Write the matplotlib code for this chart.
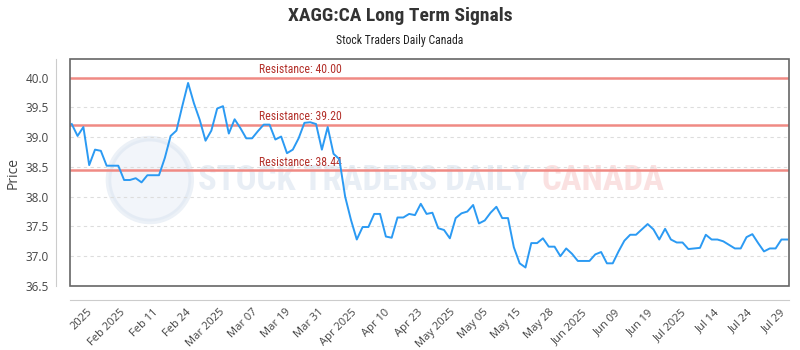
import matplotlib
matplotlib.use("Agg")
import matplotlib.pyplot as plt
from matplotlib.patches import Rectangle, Ellipse
from matplotlib import font_manager
import numpy as np

# closing prices (one per trading day)
prices = [
    39.22, 39.02, 39.17, 38.53, 38.79, 38.77, 38.52, 38.52, 38.52, 38.28,
    38.28, 38.31, 38.24, 38.36, 38.36, 38.36, 38.65, 39.02, 39.11, 39.52,
    39.91, 39.57, 39.29, 38.94, 39.11, 39.48, 39.52, 39.06, 39.30, 39.15,
    38.98, 38.98, 39.10, 39.21, 39.21, 38.96, 39.01, 38.73, 38.79, 38.98,
    39.24, 39.25, 39.22, 38.79, 39.17, 38.72, 38.63, 38.00, 37.61, 37.28,
    37.49, 37.49, 37.71, 37.71, 37.33, 37.31, 37.65, 37.65, 37.71, 37.69,
    37.88, 37.71, 37.73, 37.47, 37.44, 37.30, 37.64, 37.72, 37.75, 37.86,
    37.55, 37.60, 37.73, 37.83, 37.64, 37.64, 37.15, 36.88, 36.81, 37.22,
    37.22, 37.30, 37.16, 37.16, 37.00, 37.13, 37.04, 36.92, 36.92, 36.92,
    37.03, 37.07, 36.88, 36.88, 37.08, 37.26, 37.36, 37.36, 37.45, 37.54,
    37.45, 37.28, 37.46, 37.28, 37.23, 37.23, 37.12, 37.13, 37.14, 37.36,
    37.28, 37.28, 37.25, 37.19, 37.13, 37.13, 37.32, 37.37, 37.22, 37.08,
    37.13, 37.13, 37.28, 37.28,
]

date_labels = [
    "2025", "Feb 2025", "Feb 11", "Feb 24", "Mar 2025", "Mar 07", "Mar 19",
    "Mar 31", "Apr 2025", "Apr 10", "Apr 23", "May 2025", "May 05", "May 15",
    "May 28", "Jun 2025", "Jun 09", "Jun 19", "Jul 2025", "Jul 14", "Jul 24",
    "Jul 29",
]

resistance = [40.00, 39.20, 38.44]
y_ticks = [36.5, 37.0, 37.5, 38.0, 38.5, 39.0, 39.5, 40.0]

# pick a narrow face if one is there
have = {f.name for f in font_manager.fontManager.ttflist}
narrow = [f for f in ['Liberation Sans Narrow', 'DejaVu Sans Condensed',
                      'Roboto Condensed'] if f in have] + ['DejaVu Sans']
is_narrow = narrow[0] != 'DejaVu Sans'
plt.rcParams['font.family'] = ['Open Sans', 'DejaVu Sans']

fig = plt.figure(figsize=(8, 3.5), dpi=100)
ax = fig.add_axes([0.0875, 0.183, 0.8991, 0.648])

n = len(prices)
x = np.arange(n)

# spines first: moving them resets the tick labels
for s in ['top', 'right']:
    ax.spines[s].set_visible(False)
for s in ['left', 'bottom']:
    ax.spines[s].set_position(('outward', 10))
    ax.spines[s].set_color('#cccccc')

# faint watermark
ax.add_patch(Ellipse((0.111, 0.467), 0.115, 0.365, transform=ax.transAxes,
                     facecolor='#e3ebf5', edgecolor='#d5e0ee', lw=4,
                     alpha=0.45, zorder=0))
wm = 25 if is_narrow else 20
ax.text(0.178, 0.467, "STOCK TRADERS DAILY", transform=ax.transAxes,
        fontsize=wm, family=narrow, fontweight='bold', color='#d3deec',
        alpha=0.5, va='center', ha='left', zorder=0)
ax.text(0.655, 0.467, "CANADA", transform=ax.transAxes,
        fontsize=wm, family=narrow, fontweight='bold', color='#f7c4c4',
        alpha=0.5, va='center', ha='left', zorder=0)

for r in resistance:
    ax.axhline(r, color='#f08a84', lw=1.8, zorder=2)
    ax.text(0.263, r + 0.03, "Resistance: %.2f" % r, color='#b3302a',
            fontsize=8.5, family=narrow, va='bottom', ha='left', zorder=3,
            transform=ax.get_yaxis_transform())

ax.plot(x, prices, color='#2b9af3', lw=1.4, zorder=4)

ax.set_xlim(-0.3, n - 1 + 0.35)
ax.set_ylim(36.5, 40.31)
ax.set_yticks(y_ticks)
ax.set_yticklabels(["%.1f" % v for v in y_ticks], fontsize=8.5, color='#444')
ax.grid(axis='y', color='#dddddd', ls=(0, (3, 3)), lw=0.8)
ax.set_axisbelow(True)

tick_pos = np.linspace(2.6, n - 2.2, len(date_labels))
ax.set_xticks(tick_pos)
ax.set_xticklabels(date_labels, rotation=45, ha='right',
                   rotation_mode='anchor', fontsize=8, color='#444')
ax.tick_params(length=0, pad=5)

ax.add_patch(Rectangle((0, 0), 1, 1, transform=ax.transAxes, fill=False,
                       edgecolor='#666666', lw=1.2, zorder=5, clip_on=False))

ax.set_ylabel("Price", fontsize=10, color='#444', labelpad=4)

fig.text(0.5, 0.955, "XAGG:CA Long Term Signals", ha='center', va='center',
         fontsize=14 if is_narrow else 11.5, fontweight='bold',
         family=narrow, color='#333')
fig.text(0.5, 0.885, "Stock Traders Daily Canada", ha='center', va='center',
         fontsize=8.5 if is_narrow else 7.5, family=narrow, color='#222')

fig.savefig("out.png", dpi=100)
